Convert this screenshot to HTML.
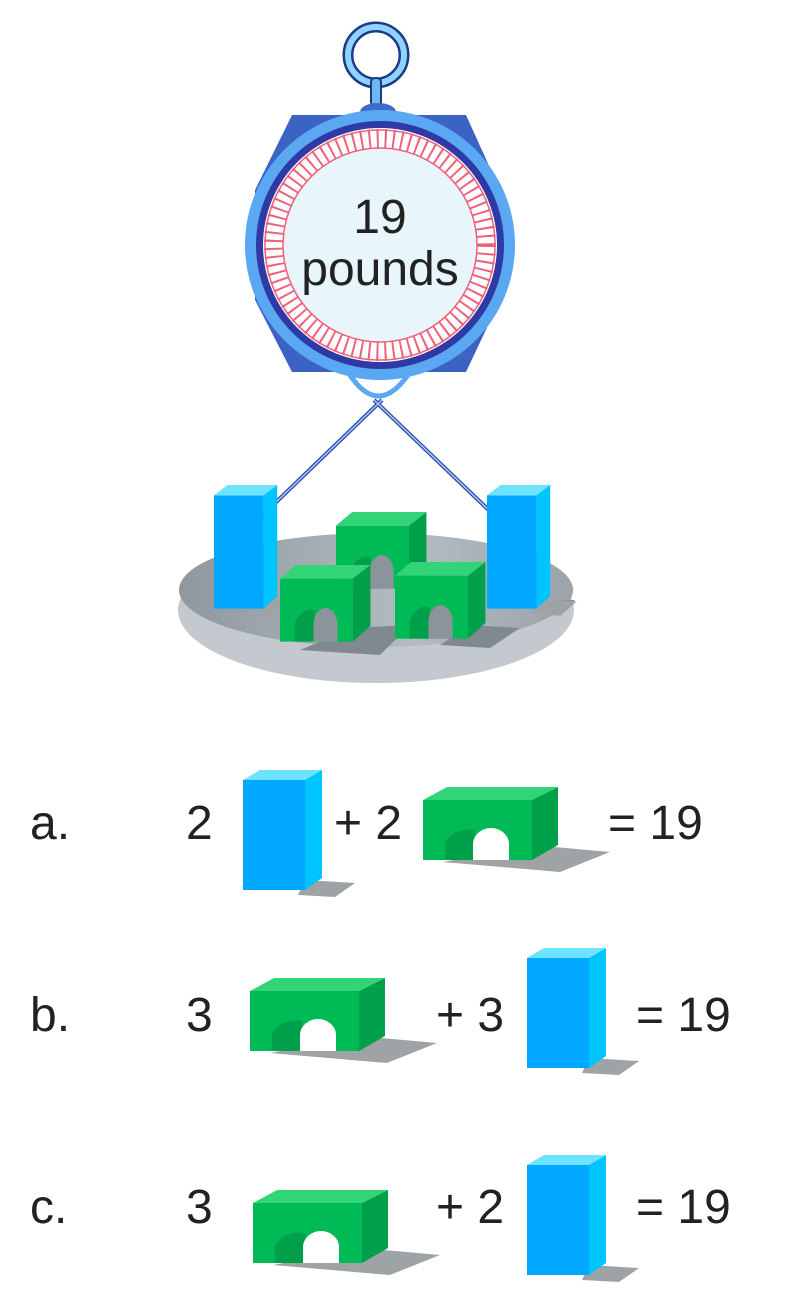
<!DOCTYPE html>
<html><head><meta charset="utf-8"><style>
html,body{margin:0;padding:0;background:#fff;}
svg{display:block;}
text{font-family:"Liberation Sans",sans-serif;fill:#222;}
</style></head><body>
<svg width="800" height="1295" viewBox="0 0 800 1295">
<defs>
<linearGradient id="pang" x1="0" y1="0" x2="1" y2="0">
 <stop offset="0" stop-color="#8e989e"/><stop offset="0.6" stop-color="#b4bcc2"/><stop offset="1" stop-color="#9aa3a9"/>
</linearGradient>
<g id="blue">
 <polygon points="62,110 112,113 92,127 55,125" fill="#9ea3a5"/>
 <rect x="0" y="10" width="62" height="110" fill="#00a8ff"/>
 <polygon points="0,10 17,0 79,0 62,10" fill="#6ee3ff"/>
 <polygon points="62,10 79,0 79,108 62,120" fill="#00c4ff"/>
</g>
<g id="green">
 <polygon points="109,58 187,65 137,85 20,75" fill="#9ea3a5"/>
 <rect x="0" y="13" width="109" height="60" fill="#00bb55"/>
 <polygon points="0,13 24,0 135,0 109,13" fill="#33d477"/>
 <polygon points="109,13 135,0 135,58 109,73" fill="#00a04a"/>
 <path d="M 22 73 L 22 56 A 26 20 0 0 1 52 43 L 52 73 Z" fill="#00a04a"/>
 <path d="M 50 73 L 50 57 A 18 16 0 0 1 86 57 L 86 73 Z" fill="#fff"/>
</g>
<g id="greenpan">
 <rect x="0" y="13" width="109" height="60" fill="#00bb55"/>
 <polygon points="0,13 24,0 135,0 109,13" fill="#33d477"/>
 <polygon points="109,13 135,0 135,58 109,73" fill="#00a04a"/>
 <path d="M 22 73 L 22 56 A 26 20 0 0 1 52 43 L 52 73 Z" fill="#00a04a"/>
 <path d="M 50 73 L 50 57 A 18 16 0 0 1 86 57 L 86 73 Z" fill="#8a949a"/>
</g>
</defs>

<g>
 <circle cx="376" cy="55" r="28" fill="none" stroke="#1b3a8a" stroke-width="11"/>
 <circle cx="376" cy="55" r="28" fill="none" stroke="#8fd3ff" stroke-width="6"/>
 <rect x="371" y="78" width="10" height="28" rx="4" fill="#6db8f0" stroke="#1b3a8a" stroke-width="2"/>
 <ellipse cx="378" cy="112" rx="18" ry="9" fill="#3f6cc9"/>
 <polygon points="292,115 466,115 500,190 500,300 466,372 292,372 255,300 255,190" fill="#3b63c4"/>
 <circle cx="380" cy="245" r="135" fill="#5aa8f2"/>
 <circle cx="380" cy="245" r="124" fill="#2f3aa6"/>
 <circle cx="380" cy="245" r="117" fill="#fff"/>
 <circle cx="380" cy="245" r="106" fill="none" stroke="#f0607a" stroke-width="20" stroke-dasharray="2 6"/>
 <circle cx="380" cy="245" r="115" fill="none" stroke="#f0607a" stroke-width="1.5"/>
 <circle cx="380" cy="245" r="97" fill="#e8f6fc" stroke="#f0607a" stroke-width="1.5"/>
 <text x="380" y="233" font-size="48" text-anchor="middle">19</text>
 <text x="380" y="285" font-size="48" text-anchor="middle">pounds</text>
 <path d="M 348 372 Q 378 420 410 372" fill="none" stroke="#5aa8f2" stroke-width="5"/>
 <line x1="382" y1="400" x2="185" y2="590" stroke="#2a4aa8" stroke-width="4"/>
 <line x1="374" y1="400" x2="572" y2="590" stroke="#2a4aa8" stroke-width="4"/>
 <line x1="382" y1="400" x2="185" y2="590" stroke="#a8c8ff" stroke-width="1.5"/>
 <line x1="374" y1="400" x2="572" y2="590" stroke="#a8c8ff" stroke-width="1.5"/>
</g>
<g>
 <ellipse cx="376" cy="610" rx="198" ry="73" fill="#c3c9ce"/>
 <ellipse cx="376" cy="590" rx="197" ry="57" fill="url(#pang)"/>
 <polygon points="290,600 330,600 320,618 280,615" fill="#7f898f"/>
 <polygon points="352,628 410,625 380,655 300,650" fill="#7f898f"/>
 <polygon points="470,625 520,628 490,648 440,645" fill="#7f898f"/>
 <polygon points="545,600 575,600 560,612 535,612" fill="#7f898f"/>
 <use href="#blue" transform="translate(214,485) scale(0.8,1.03)"/>
 <use href="#greenpan" transform="translate(336,512) scale(0.67,1.05)"/>
 <use href="#greenpan" transform="translate(280,565) scale(0.67,1.05)"/>
 <use href="#greenpan" transform="translate(395,562) scale(0.67,1.05)"/>
 <use href="#blue" transform="translate(487,485) scale(0.8,1.03)"/>
</g>

<g>
 <text x="30" y="839" font-size="48">a.</text>
 <text x="186" y="839" font-size="48">2</text>
 <use href="#blue" transform="translate(243,770)"/>
 <text x="334" y="839" font-size="48">+ 2</text>
 <use href="#green" transform="translate(423,787)"/>
 <text x="608" y="839" font-size="48">= 19</text>
</g>
<g>
 <text x="30" y="1031" font-size="48">b.</text>
 <text x="186" y="1031" font-size="48">3</text>
 <use href="#green" transform="translate(250,978)"/>
 <text x="436" y="1031" font-size="48">+ 3</text>
 <use href="#blue" transform="translate(527,948)"/>
 <text x="636" y="1031" font-size="48">= 19</text>
</g>
<g>
 <text x="30" y="1223" font-size="48">c.</text>
 <text x="186" y="1223" font-size="48">3</text>
 <use href="#green" transform="translate(253,1190)"/>
 <text x="436" y="1223" font-size="48">+ 2</text>
 <use href="#blue" transform="translate(527,1155)"/>
 <text x="636" y="1223" font-size="48">= 19</text>
</g>
</svg>
</body></html>
